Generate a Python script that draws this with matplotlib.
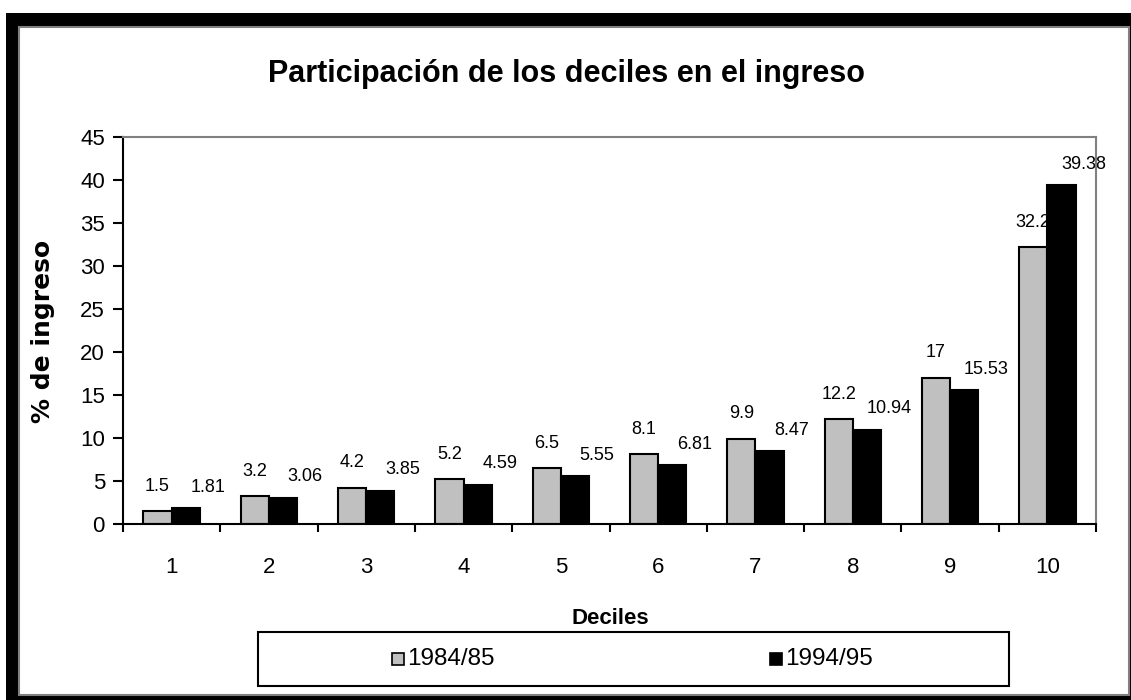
import matplotlib
matplotlib.use("Agg")
import matplotlib.pyplot as plt
from matplotlib.patches import Rectangle
import numpy as np

deciles = ["1", "2", "3", "4", "5", "6", "7", "8", "9", "10"]
series_names = ["1984/85", "1994/95"]
v1984 = [1.5, 3.2, 4.2, 5.2, 6.5, 8.1, 9.9, 12.2, 17, 32.2]
v1994 = [1.81, 3.06, 3.85, 4.59, 5.55, 6.81, 8.47, 10.94, 15.53, 39.38]
lab1984 = ["1.5", "3.2", "4.2", "5.2", "6.5", "8.1", "9.9", "12.2", "17", "32.2"]
lab1994 = ["1.81", "3.06", "3.85", "4.59", "5.55", "6.81", "8.47", "10.94", "15.53", "39.38"]
yticks = [0, 5, 10, 15, 20, 25, 30, 35, 40, 45]

W, H = 1131, 700
fig = plt.figure(figsize=(W / 100, H / 100), dpi=100)
fig.patch.set_facecolor("white")

reg = ["Liberation Sans", "DejaVu Sans"]

def fx(px):
    return px / W

def fy(py):
    return 1 - py / H

# outer black frame and white inner area
fig.patches.append(Rectangle((fx(6), 0), 1 - fx(6), fy(13), transform=fig.transFigure,
                             facecolor="black", edgecolor="none", zorder=0))
fig.patches.append(Rectangle((fx(19), fy(695)), fx(1129) - fx(19), fy(27) - fy(695),
                             transform=fig.transFigure, facecolor="white",
                             edgecolor="#808080", linewidth=1.5, zorder=0.1))

ax = fig.add_axes([fx(123), fy(524), fx(1096) - fx(123), fy(137) - fy(524)])
ax.set_zorder(0.5)
ax.set_facecolor("none")

x = np.arange(1, len(deciles) + 1)
bw = 0.29
ax.bar(x - bw / 2, v1984, width=bw, color="#C0C0C0", edgecolor="black", linewidth=1.5, zorder=2)
ax.bar(x + bw / 2, v1994, width=bw, color="black", edgecolor="black", linewidth=1.5, zorder=2)

for xi, v, t in zip(x, v1984, lab1984):
    ax.annotate(t, (xi - bw / 2, v), xytext=(0, 25), textcoords="offset pixels",
                ha="center", va="center", fontsize=13, family=reg, zorder=1.5,
                annotation_clip=False)
for xi, v, t in zip(x, v1994, lab1994):
    ax.annotate(t, (xi + bw / 2, v), xytext=(22, 21), textcoords="offset pixels",
                ha="center", va="center", fontsize=13, family=reg, zorder=1.5,
                annotation_clip=False)

ax.set_xlim(0.5, len(deciles) + 0.5)
ax.set_ylim(0, 45)
ax.set_yticks(yticks)
ax.set_yticklabels([str(t) for t in yticks], fontsize=16, family=reg)
ax.set_xticks(np.arange(0.5, len(deciles) + 1, 1))
ax.set_xticklabels([])
ax.set_xticks(x, minor=True)
ax.set_xticklabels(deciles, minor=True, fontsize=16, family=reg)
ax.tick_params(axis="x", which="major", direction="out", length=6, width=1.5, color="black")
ax.tick_params(axis="x", which="minor", length=0, pad=24)
ax.tick_params(axis="y", direction="out", length=7, width=1.5, color="black", pad=6)

for s in ["left", "bottom"]:
    ax.spines[s].set_color("black")
    ax.spines[s].set_linewidth(1.5)
for s in ["top", "right"]:
    ax.spines[s].set_color("#808080")
    ax.spines[s].set_linewidth(1.5)
for s in ax.spines.values():
    s.set_zorder(2.5)

fig.text(fx(567), fy(74), "Participación de los deciles en el ingreso", ha="center", va="center",
         fontsize=22, fontweight="bold", family=reg)
fig.text(fx(43), fy(331), "% de ingreso", ha="center", va="center", rotation=90,
         fontsize=18, fontweight="bold", family=["DejaVu Sans"])
fig.text(fx(610), fy(618), "Deciles", ha="center", va="center",
         fontsize=16, fontweight="bold", family=reg)

# legend box
fig.patches.append(Rectangle((fx(258), fy(686)), fx(1009) - fx(258), fy(632) - fy(686),
                             transform=fig.transFigure, facecolor="white",
                             edgecolor="black", linewidth=1.5, zorder=1))
leg_x = [392, 770]
leg_colors = ["#C0C0C0", "black"]
for lx, c, name in zip(leg_x, leg_colors, series_names):
    fig.patches.append(Rectangle((fx(lx), fy(665)), fx(12), 12 / H, transform=fig.transFigure,
                                 facecolor=c, edgecolor="black", linewidth=1.2, zorder=2))
    fig.text(fx(lx + 15), fy(659), name, ha="left", va="center", fontsize=17.5,
             family=reg, zorder=3)

fig.savefig("out.png", dpi=100)
